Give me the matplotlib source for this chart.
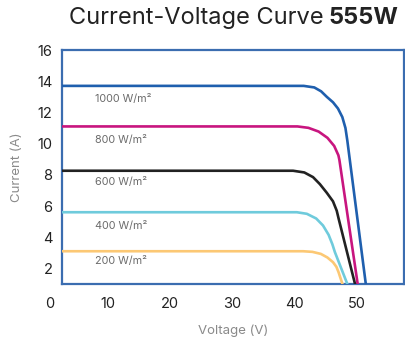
import numpy as np
import matplotlib.pyplot as plt

plt.rcParams['font.family'] = ['Inter', 'DejaVu Sans']

# irradiance levels and I-V points
labels = ['1000 W/m²', '800 W/m²', '600 W/m²', '400 W/m²', '200 W/m²']
colors = ['#1f5fae', '#c8157f', '#222222', '#6fcbdc', '#fcc874']

v_1000 = [2.7, 41.5, 43.2, 44.3, 45.2, 46.2, 47.0, 47.7, 48.2, 48.5, 51.5]
i_1000 = [13.7, 13.7, 13.6, 13.35, 13.0, 12.65, 12.25, 11.7, 11.0, 10.2, 0.9]
v_800 = [2.7, 40.5, 42.26, 43.9, 45.31, 46.39, 47.07, 47.23, 50.2]
i_800 = [11.1, 11.1, 11.01, 10.77, 10.37, 9.85, 9.25, 8.95, 0.9]
v_600 = [2.7, 39.8, 41.6, 43.0, 44.1, 45.2, 46.2, 46.8, 47.1, 49.8]
i_600 = [8.26, 8.26, 8.15, 7.85, 7.4, 6.85, 6.3, 5.7, 5.2, 0.9]
v_400 = [2.7, 40.4, 42.0, 43.5, 44.6, 45.5, 46.1, 46.5, 48.6]
i_400 = [5.6, 5.6, 5.5, 5.2, 4.75, 4.15, 3.55, 3.05, 0.9]
v_200 = [2.7, 41.4, 42.9, 44.25, 45.3, 46.2, 46.75, 47.1, 47.8]
i_200 = [3.1, 3.1, 3.06, 2.93, 2.7, 2.4, 2.1, 1.75, 0.9]

label_y = [12.85, 10.25, 7.55, 4.7, 2.5]

fig = plt.figure(figsize=(4.06, 3.40), dpi=100)
ax = fig.add_axes([62/406, 56/340, 342/406, 234/340])

curves = [(v_1000, i_1000), (v_800, i_800), (v_600, i_600), (v_400, i_400), (v_200, i_200)]
for (v, i), c, lab, ly in zip(curves, colors, labels, label_y):
    ax.plot(v, i, color=c, lw=1.9, solid_joinstyle='round', solid_capstyle='butt', zorder=3)
    ax.text(8.0, ly, lab, color='#6b6b6b', fontsize=7.8, va='center', ha='left')

ax.set_xlim(2.7, 57.6)
ax.set_ylim(1.0, 16)
ax.set_xticks([10, 20, 30, 40, 50])
ax.set_yticks([2, 4, 6, 8, 10, 12, 14, 16])
ax.tick_params(length=0, labelsize=10.5, labelcolor='#222222')
ax.tick_params(axis='x', pad=9)
ax.tick_params(axis='y', pad=7)
for s in ax.spines.values():
    s.set_color('#3b6db0')
    s.set_linewidth(1.6)

ax.text(-0.035, -0.055, '0', transform=ax.transAxes, fontsize=10.5, color='#222222',
        ha='center', va='top')

ax.set_xlabel('Voltage (V)', fontsize=9.5, color='#8a8a8a', labelpad=10)
ax.set_ylabel('Current (A)', fontsize=9.5, color='#8a8a8a', labelpad=10)

# title: regular part + bold part, spread over about x=68..400 px
t1 = fig.text(0, 1 - 18/340, 'Current-Voltage Curve', fontsize=17, color='#222222',
              ha='left', va='center')
t2 = fig.text(0, 1 - 18/340, '555W', fontsize=17, color='#222222', fontweight='bold',
              ha='left', va='center')
r = fig.canvas.get_renderer()
w1 = t1.get_window_extent(r).width
w2 = t2.get_window_extent(r).width
gap = 5
x0 = 234 - (w1 + gap + w2) / 2
t1.set_x(x0 / 406)
t2.set_x((x0 + w1 + gap) / 406)

fig.savefig('out.png', dpi=100)
